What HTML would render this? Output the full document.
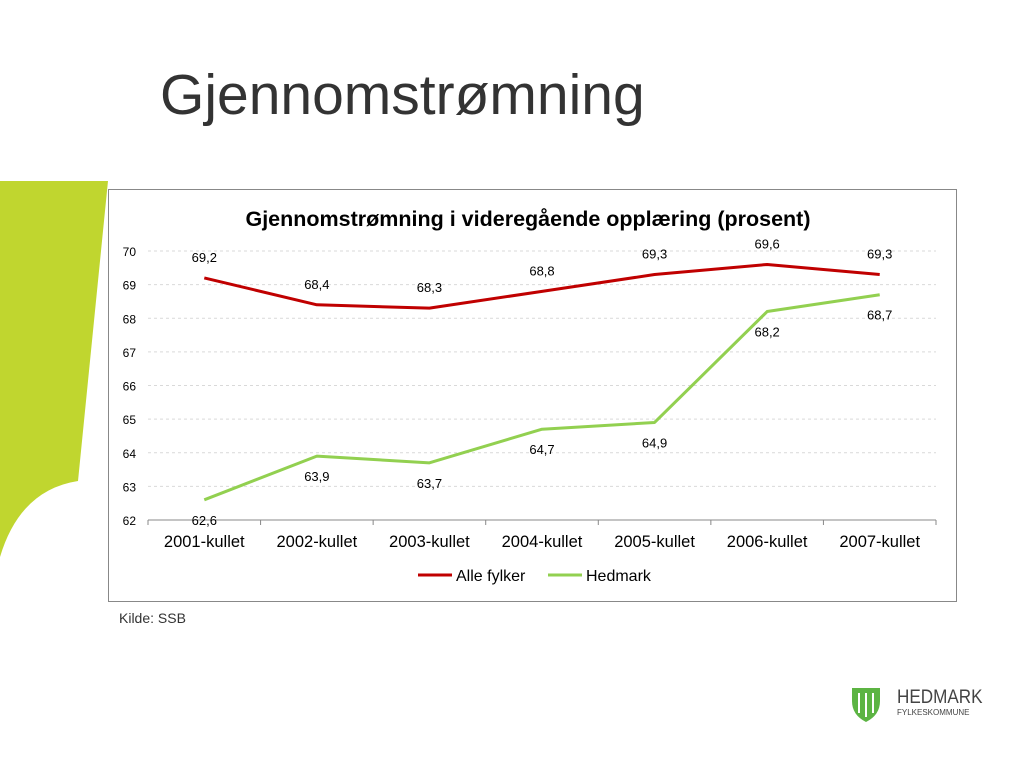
<!DOCTYPE html>
<html><head><meta charset="utf-8"><style>
body{margin:0;width:1024px;height:768px;background:#fff;position:relative;overflow:hidden;font-family:"Liberation Sans",sans-serif}
#title{position:absolute;left:160px;top:62px;font-size:57px;color:#333;margin:0;font-weight:normal}
#src{position:absolute;left:119px;top:610px;font-size:14px;color:#333}
</style></head><body>
<svg width="120" height="600" style="position:absolute;left:0;top:0">
<path d="M0 181 L108 181 L78 481 Q20 490 0 557 Z" fill="#c0d62f"/></svg>
<h1 id="title">Gjennomstrømning</h1>
<svg id="chart" width="1024" height="768" style="position:absolute;left:0;top:0">
<rect x="108.5" y="189.5" width="848" height="412" fill="#fff" stroke="#888" stroke-width="1"/>
<text x="528" y="226" text-anchor="middle" font-size="21.5" font-weight="bold" fill="#000">Gjennomstrømning i videregående opplæring (prosent)</text>
<g id="grid"></g><g id="lines"></g><g id="labels"></g>
<g font-size="16" fill="#000">
<line x1="418" y1="575" x2="452" y2="575" stroke="#c00000" stroke-width="3"/>
<text x="456" y="581">Alle fylker</text>
<line x1="548" y1="575" x2="582" y2="575" stroke="#92d050" stroke-width="3"/>
<text x="586" y="581">Hedmark</text>
</g>
</svg>
<div id="src">Kilde: SSB</div>
<div style="position:absolute;left:851px;top:687px;width:140px;height:40px">
<svg width="30" height="36" style="position:absolute;left:0;top:0"><path d="M1 1 H29 V14 Q29 28 15 35 Q1 28 1 14 Z" fill="#5cb443"/><g stroke="#fff" stroke-width="2"><line x1="8" y1="6" x2="8" y2="26"/><line x1="15" y1="6" x2="15" y2="30"/><line x1="22" y1="6" x2="22" y2="26"/></g></svg>
<div style="position:absolute;left:46px;top:0;font-size:19px;color:#444;transform:scaleX(0.9);transform-origin:left">HEDMARK</div>
<div style="position:absolute;left:46px;top:21px;font-size:8px;color:#444">FYLKESKOMMUNE</div>
</div>
<script>
const categories=["2001-kullet","2002-kullet","2003-kullet","2004-kullet","2005-kullet","2006-kullet","2007-kullet"];
const alleFylker=[69.2,68.4,68.3,68.8,69.3,69.6,69.3];
const hedmark=[62.6,63.9,63.7,64.7,64.9,68.2,68.7];
const yTicks=[62,63,64,65,66,67,68,69,70];
const NS="http://www.w3.org/2000/svg";
const x0=148,x1=936,yMin=62,yMax=70,yTop=251,yBot=520;
const bw=(x1-x0)/categories.length;
function xs(i){return x0+bw*(i+0.5);}
function ys(v){return yBot-(v-yMin)/(yMax-yMin)*(yBot-yTop);}
function mk(tag,attrs,parent){const e=document.createElementNS(NS,tag);for(const k in attrs)e.setAttribute(k,attrs[k]);parent.appendChild(e);return e;}
const grid=document.getElementById('grid'),lines=document.getElementById('lines'),labels=document.getElementById('labels');
yTicks.forEach(t=>{
 if(t>yMin){const l=mk('line',{x1:x0,x2:x1,y1:ys(t),y2:ys(t),stroke:'#d9d9d9','stroke-dasharray':'3,3'},grid);
 
 }
 const tx=mk('text',{x:136,y:ys(t)+5,'text-anchor':'end','font-size':'12',fill:'#000'},grid);
 tx.textContent=t;
 
 
});
const ax=mk('line',{x1:x0,x2:x1,y1:yBot,y2:yBot,stroke:'#888'},grid);


categories.forEach((c,i)=>{
 mk('line',{x1:x0+bw*i,x2:x0+bw*i,y1:yBot,y2:yBot+5,stroke:'#888'},grid);
 const t=mk('text',{x:xs(i),y:547,'text-anchor':'middle','font-size':'16.5',fill:'#000'},grid);
 t.textContent=c;
 
 
});
mk('line',{x1:x1,x2:x1,y1:yBot,y2:yBot+5,stroke:'#888'},grid);
function series(vals,color,name,off){
 const p=mk('polyline',{points:vals.map((v,i)=>xs(i)+','+ys(v)).join(' '),fill:'none',stroke:color,'stroke-width':'3','stroke-linejoin':'round'},lines);
 
 
 vals.forEach((v,i)=>{
  const t=mk('text',{x:xs(i),y:ys(v)+off,'text-anchor':'middle','font-size':'13',fill:'#000'},labels);
  t.textContent=String(v).replace('.',',');
  
  
 });
}
series(alleFylker,'#c00000','alle-fylker',-16);
series(hedmark,'#92d050','hedmark',25);
</script>
</body></html>
